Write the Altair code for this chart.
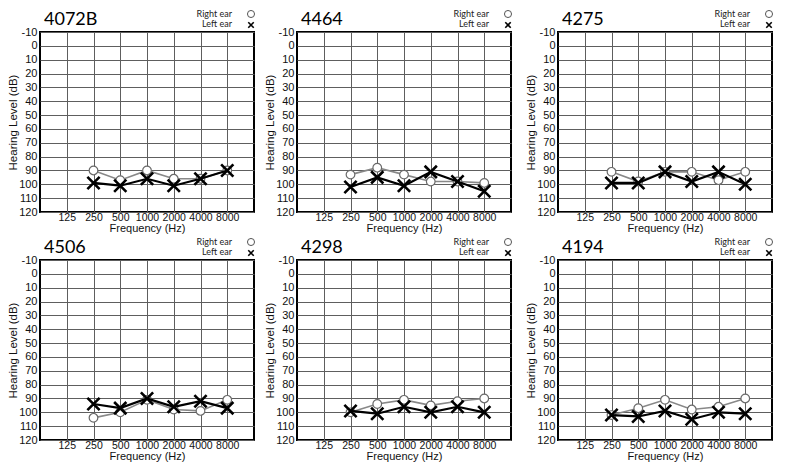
import altair as alt
import pandas as pd
import math

panels = ["4072B", "4464", "4275", "4506", "4298", "4194"]
freqs = [250, 500, 1000, 2000, 4000, 8000]
tick_freqs = [125, 250, 500, 1000, 2000, 4000, 8000]
db_ticks = list(range(-10, 121, 10))

right_ear = {
    "4072B": [90, 97, 90, 96, 96, 90],
    "4464": [93, 88, 93, 98, 98, 99],
    "4275": [91, 98, 91, 91, 97, 91],
    "4506": [104, 100, 91, 98, 99, 91],
    "4298": [100, 94, 91, 95, 92, 90],
    "4194": [102, 97, 91, 98, 96, 90],
}
left_ear = {
    "4072B": [99, 101, 96, 101, 96, 90],
    "4464": [102, 95, 101, 91, 98, 105],
    "4275": [99, 99, 91, 98, 91, 100],
    "4506": [94, 97, 90, 96, 92, 97],
    "4298": [99, 101, 96, 100, 96, 100],
    "4194": [102, 103, 99, 105, 100, 101],
}
legend_labels = ["Right ear", "Left ear"]

W, H = 214, 180
XSHAPE = "M-1,-1L1,1M-1,1L1,-1"
AXFONT = "Liberation Sans Narrow, Arial Narrow, Liberation Sans"


def pos(f):
    return math.log2(f / 125) + 1


label_arr = [""] + [str(f) for f in tick_freqs] + [""]
label_expr = "[" + ",".join("'%s'" % s for s in label_arr) + "][datum.value]"


def panel(name):
    df = pd.DataFrame({
        "pos": [pos(f) for f in freqs] * 2,
        "db": right_ear[name] + left_ear[name],
        "ear": ["Right ear"] * len(freqs) + ["Left ear"] * len(freqs),
    })
    x = alt.X("pos:Q", scale=alt.Scale(domain=[0, 8], nice=False, zero=False),
              axis=alt.Axis(values=[pos(f) for f in tick_freqs], labelExpr=label_expr,
                            title="Frequency (Hz)", grid=True, gridColor="#5e5e5e",
                            gridWidth=1, domain=False, ticks=False, labelPadding=0,
                            labelFontSize=10.5, titleFontSize=11, titleFontWeight="normal",
                            labelFont=AXFONT, titleFont=AXFONT,
                            labelColor="#111", titleColor="#111", titlePadding=0))
    y = alt.Y("db:Q", scale=alt.Scale(domain=[-10, 120], reverse=True, nice=False, zero=False),
              axis=alt.Axis(values=db_ticks, labelExpr="'' + datum.value",
                            title="Hearing Level (dB)", grid=True,
                            gridColor="#5e5e5e", gridWidth=1, domain=False, ticks=False,
                            labelPadding=3, labelFontSize=11, titleFontSize=11.5,
                            titleFontWeight="normal", labelFont=AXFONT,
                            titleFont=AXFONT, labelColor="#111",
                            titleColor="#111", titlePadding=0))
    base = alt.Chart(df).encode(x=x, y=y)
    rline = base.transform_filter("datum.ear == 'Right ear'").mark_line(color="#888888", strokeWidth=1.6)
    rpts = base.transform_filter("datum.ear == 'Right ear'").mark_point(
        shape="circle", size=75, filled=False, fill="white", fillOpacity=1,
        stroke="#6a6a6a", strokeWidth=1.2, opacity=1)
    lline = base.transform_filter("datum.ear == 'Left ear'").mark_line(color="black", strokeWidth=2.2)
    lpts = base.transform_filter("datum.ear == 'Left ear'").mark_point(
        shape=XSHAPE, size=150, stroke="black", strokeWidth=2.6, opacity=1)

    leg = pd.DataFrame({"t": legend_labels})
    title = alt.Chart(pd.DataFrame({"t": [name]})).mark_text(
        align="left", baseline="alphabetic", font="Lato", fontSize=18, color="black").encode(
        text="t:N", x=alt.value(4), y=alt.value(-7))
    ltext1 = alt.Chart(leg).transform_filter("datum.t == 'Right ear'").mark_text(
        align="right", baseline="middle", font="Lato", fontSize=9, color="#222").encode(
        text="t:N", x=alt.value(192), y=alt.value(-18))
    ltext2 = alt.Chart(leg).transform_filter("datum.t == 'Left ear'").mark_text(
        align="right", baseline="middle", font="Lato", fontSize=9, color="#222").encode(
        text="t:N", x=alt.value(192), y=alt.value(-8))
    lsym1 = alt.Chart(leg).transform_filter("datum.t == 'Right ear'").mark_point(
        shape="circle", size=50, fill="white", filled=False, stroke="#555", strokeWidth=1, opacity=1).encode(
        x=alt.value(211), y=alt.value(-18))
    lsym2 = alt.Chart(leg).transform_filter("datum.t == 'Left ear'").mark_point(
        shape=XSHAPE, size=30, stroke="black", strokeWidth=1.6, opacity=1).encode(
        x=alt.value(211), y=alt.value(-7))

    return alt.layer(rline, rpts, lline, lpts, title, ltext1, ltext2, lsym1, lsym2).properties(
        width=W, height=H)


def row(names):
    return alt.hconcat(
        alt.hconcat(panel(names[0]), panel(names[1]), spacing=5),
        panel(names[2]), spacing=9)


chart = alt.vconcat(row(panels[:3]), row(panels[3:]), spacing=0).properties(
    padding={"left": -2, "top": -1, "right": 0, "bottom": 0}
).configure(background="white").configure_view(stroke="black", strokeWidth=2)

chart.save("out.html", embed_options={"renderer": "svg", "actions": False})
